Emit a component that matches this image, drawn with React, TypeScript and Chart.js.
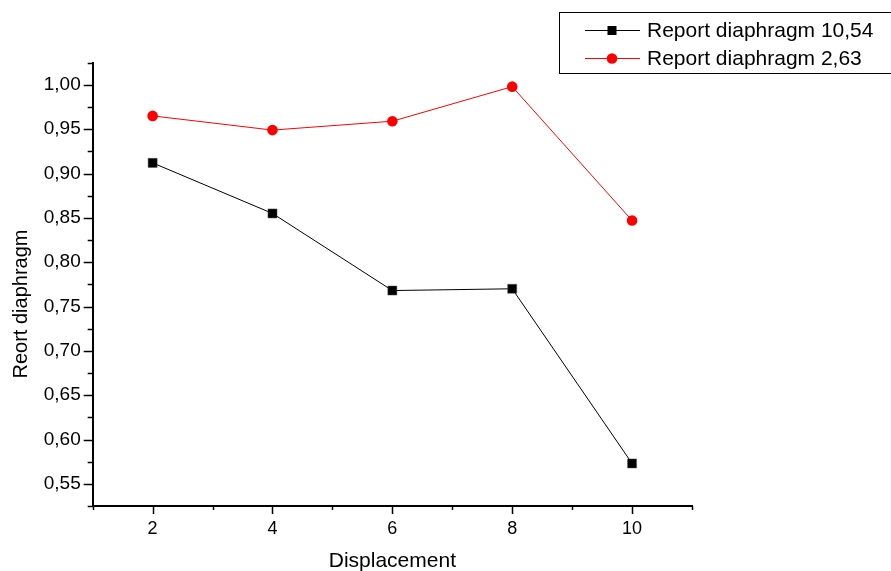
import React, { useEffect, useRef } from "react";
import { Chart, registerables } from "chart.js";

Chart.register(...registerables);

const displacement = [2, 4, 6, 8, 10];
const series1054 = [0.912, 0.855, 0.768, 0.770, 0.573];
const series263 = [0.965, 0.949, 0.959, 0.998, 0.847];
const seriesLabels = ["Report diaphragm 10,54", "Report diaphragm 2,63"];
const xTitle = "Displacement";
const yTitle = "Reort diaphragm";

const FONT = "'Liberation Sans', Arial, sans-serif";

const decorPlugin = {
  id: "decor",
  afterDraw(chart: any) {
    const ctx = chart.ctx;
    const xs = chart.scales.x;
    const ys = chart.scales.y;
    const area = chart.chartArea;
    ctx.save();
    ctx.strokeStyle = "#000";
    ctx.lineWidth = 1.5;
    // x ticks
    for (let v = 1; v <= 11; v++) {
      const px = Math.round(xs.getPixelForValue(v)) + 0.5;
      const len = v % 2 === 0 ? 8 : 4;
      ctx.beginPath();
      ctx.moveTo(px, area.bottom);
      ctx.lineTo(px, area.bottom + len);
      ctx.stroke();
    }
    // y ticks
    for (let i = 0; i <= 20; i++) {
      const v = 0.525 + i * 0.025;
      const py = Math.round(ys.getPixelForValue(v)) + 0.5;
      const major = i % 2 === 1;
      const len = major ? 9 : 5;
      ctx.beginPath();
      ctx.moveTo(area.left, py);
      ctx.lineTo(area.left - len, py);
      ctx.stroke();
    }
    // y title
    ctx.save();
    ctx.translate(21, 304);
    ctx.rotate(-Math.PI / 2);
    ctx.fillStyle = "#000";
    ctx.font = `20px ${FONT}`;
    ctx.textAlign = "center";
    ctx.textBaseline = "middle";
    ctx.fillText(yTitle, 0, 0);
    ctx.restore();
    // legend
    ctx.lineWidth = 1;
    ctx.strokeStyle = "#000";
    ctx.strokeRect(559.5, 12.5, 345, 61);
    const rows = [
      { y: 30.5, color: "#000", style: "rect" },
      { y: 58.5, color: "#ff0000", style: "circle" },
    ];
    rows.forEach((r, i) => {
      ctx.strokeStyle = r.color;
      ctx.lineWidth = 1;
      ctx.beginPath();
      ctx.moveTo(585, r.y);
      ctx.lineTo(640, r.y);
      ctx.stroke();
      ctx.fillStyle = r.color;
      if (r.style === "rect") {
        ctx.fillRect(607.5, r.y - 4.5, 9, 9);
      } else {
        ctx.beginPath();
        ctx.arc(612, r.y, 5.3, 0, Math.PI * 2);
        ctx.fill();
      }
      ctx.fillStyle = "#000";
      ctx.font = `21px ${FONT}`;
      ctx.textAlign = "left";
      ctx.textBaseline = "middle";
      ctx.fillText(seriesLabels[i], 647, r.y + 1);
    });
    ctx.restore();
  },
};

export default function App() {
  const ref = useRef<HTMLCanvasElement>(null);
  useEffect(() => {
    document.body.style.margin = "0";
    const chart = new Chart(ref.current!, {
      type: "line",
      data: {
        datasets: [
          {
            label: seriesLabels[0],
            data: displacement.map((x, i) => ({ x, y: series1054[i] })),
            borderColor: "#000",
            backgroundColor: "#000",
            borderWidth: 1,
            pointStyle: "rect",
            pointRadius: 6.4,
            pointBorderWidth: 0.5,
            pointBorderColor: "#555",
            pointBackgroundColor: "#000",
            tension: 0,
          },
          {
            label: seriesLabels[1],
            data: displacement.map((x, i) => ({ x, y: series263[i] })),
            borderColor: "#ff0000",
            backgroundColor: "#ff0000",
            borderWidth: 1,
            pointStyle: "circle",
            pointRadius: 5.3,
            pointBorderWidth: 0,
            pointBackgroundColor: "#ff0000",
            tension: 0,
          },
        ],
      },
      options: {
        animation: false,
        responsive: false,
        devicePixelRatio: 1,
        layout: { padding: { left: 0, top: 62.7, right: 199, bottom: 0 } },
        plugins: { legend: { display: false }, tooltip: { enabled: false } },
        scales: {
          x: {
            type: "linear",
            min: 1,
            max: 11,
            grid: { display: true, drawOnChartArea: false, drawTicks: false },
            border: { display: true, color: "#000", width: 2 },
            ticks: {
              stepSize: 1,
              autoSkip: false,
              maxRotation: 0,
              padding: 12,
              color: "#000",
              font: { family: FONT, size: 18 },
              callback: (v: any) => (Number(v) % 2 === 0 ? String(v) : ""),
            },
            title: {
              display: true,
              text: xTitle,
              color: "#000",
              font: { family: FONT, size: 21 },
              padding: { top: 0, bottom: -3 },
            },
            afterFit: (s: any) => {
              s.height = 65;
            },
          },
          y: {
            type: "linear",
            min: 0.525,
            max: 1.025,
            grid: { display: true, drawOnChartArea: false, drawTicks: false },
            border: { display: true, color: "#000", width: 2 },
            ticks: {
              stepSize: 0.025,
              autoSkip: false,
              padding: 12,
              color: "#000",
              font: { family: FONT, size: 19 },
              callback: (v: any) => {
                const k = Math.round(Number(v) * 1000);
                return k % 50 === 0 ? (k / 1000).toFixed(2).replace(".", ",") : "";
              },
            },
            afterFit: (s: any) => {
              s.width = 92.7;
            },
          },
        },
      },
      plugins: [decorPlugin],
    });
    return () => chart.destroy();
  }, []);
  return (
    <div style={{ position: "absolute", left: 0, top: 0, width: 891, height: 571 }}>
      <canvas ref={ref} width={891} height={571} />
    </div>
  );
}
